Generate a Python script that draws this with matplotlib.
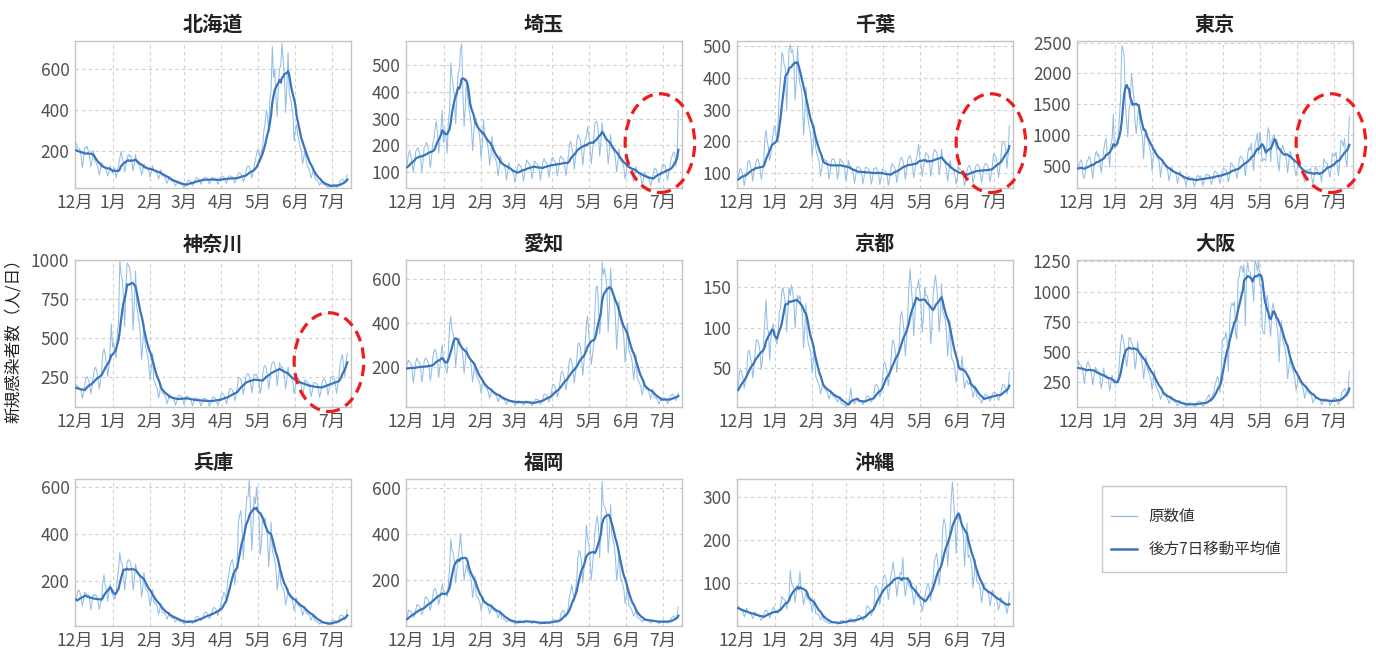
import numpy as np
import pandas as pd
import matplotlib
matplotlib.use("Agg")
import matplotlib.pyplot as plt
from matplotlib.patches import Ellipse, Rectangle
from matplotlib.lines import Line2D

plt.rcParams['font.family'] = ['Noto Sans CJK JP', 'DejaVu Sans']

# Daily new cases, 2020-11-26 (Thu) .. 2021-07-14 (Wed), one row per week (Thu..Wed)
start_date = "2020-11-26"
month_starts = ["2020-12-01", "2021-01-01", "2021-02-01", "2021-03-01",
                "2021-04-01", "2021-05-01", "2021-06-01", "2021-07-01"]
month_labels = ["12月", "1月", "2月", "3月", "4月", "5月", "6月", "7月"]

hokkaido = [
    230, 240, 220, 195, 135, 175, 240,
    220, 215, 210, 180, 120, 165, 220,
    215, 225, 200, 175, 125, 150, 205,
    160, 150, 140, 120, 85, 110, 145,
    135, 130, 120, 105, 80, 100, 130,
    110, 95, 120, 110, 70, 100, 130,
    165, 200, 170, 150, 100, 130, 165,
    185, 175, 180, 150, 105, 140, 185,
    145, 140, 135, 120, 85, 105, 140,
    130, 125, 120, 105, 75, 100, 130,
    110, 105, 100, 90, 65, 85, 110,
    80, 85, 75, 65, 45, 60, 80,
    60, 55, 55, 48, 32, 45, 55,
    45, 42, 40, 36, 25, 35, 43,
    55, 60, 55, 48, 33, 45, 56,
    72, 70, 66, 60, 40, 55, 70,
    70, 75, 68, 60, 42, 52, 73,
    72, 70, 67, 58, 40, 55, 72,
    78, 80, 72, 65, 44, 58, 78,
    82, 78, 76, 66, 46, 60, 82,
    92, 98, 90, 78, 52, 70, 94,
    120, 130, 125, 105, 70, 95, 125,
    160, 185, 210, 200, 150, 200, 225,
    300, 330, 400, 380, 290, 450, 500,
    712, 560, 600, 470, 370, 520, 600,
    620, 727, 640, 560, 390, 520, 680,
    480, 460, 420, 380, 250, 310, 330,
    280, 250, 220, 200, 140, 170, 210,
    150, 130, 120, 100, 70, 90, 110,
    75, 65, 60, 50, 35, 45, 55,
    40, 38, 35, 30, 22, 28, 31,
    38, 42, 40, 35, 24, 30, 38,
    55, 60, 65, 60, 45, 70, 85,
]

saitama = [
    140, 145, 125, 110, 75, 100, 130,
    165, 180, 160, 140, 100, 130, 175,
    185, 190, 175, 155, 100, 140, 190,
    200, 210, 195, 170, 115, 150, 205,
    220, 260, 290, 250, 170, 220, 270,
    330, 210, 260, 230, 170, 290, 330,
    510, 460, 420, 390, 280, 380, 470,
    480, 560, 580, 400, 270, 340, 450,
    380, 340, 310, 270, 180, 250, 300,
    300, 280, 260, 230, 150, 200, 295,
    240, 225, 210, 185, 125, 160, 235,
    165, 155, 150, 130, 85, 115, 160,
    140, 130, 125, 110, 70, 100, 135,
    120, 110, 100, 90, 60, 85, 115,
    130, 125, 120, 105, 65, 95, 130,
    145, 135, 130, 115, 75, 100, 140,
    135, 130, 125, 110, 70, 100, 135,
    150, 140, 135, 120, 80, 105, 145,
    155, 145, 140, 125, 85, 110, 150,
    160, 150, 150, 130, 85, 115, 155,
    200, 215, 190, 170, 110, 150, 210,
    240, 230, 220, 190, 125, 170, 225,
    230, 270, 240, 200, 130, 175, 220,
    280, 290, 285, 240, 160, 210, 285,
    240, 230, 225, 195, 130, 175, 240,
    190, 185, 175, 150, 100, 135, 185,
    145, 140, 135, 115, 75, 100, 145,
    125, 120, 115, 100, 65, 90, 120,
    100, 95, 95, 80, 55, 70, 100,
    90, 85, 80, 70, 48, 65, 87,
    110, 115, 105, 90, 60, 80, 105,
    130, 125, 125, 105, 70, 95, 120,
    150, 160, 175, 170, 120, 175, 330,
]

chiba = [
    95, 90, 85, 80, 55, 70, 85,
    110, 115, 105, 90, 60, 85, 100,
    135, 140, 125, 110, 75, 100, 120,
    140, 145, 135, 115, 80, 100, 135,
    210, 235, 200, 180, 140, 160, 200,
    230, 250, 230, 200, 260, 360, 400,
    480, 470, 440, 430, 300, 400, 490,
    505, 480, 490, 450, 330, 390, 500,
    420, 380, 370, 330, 220, 280, 370,
    290, 260, 240, 215, 150, 190, 250,
    180, 160, 150, 130, 90, 115, 145,
    145, 140, 140, 120, 80, 105, 140,
    145, 145, 135, 120, 80, 105, 145,
    140, 135, 130, 115, 75, 100, 140,
    125, 120, 115, 100, 68, 90, 120,
    120, 118, 112, 98, 66, 88, 118,
    118, 115, 110, 95, 65, 85, 115,
    115, 118, 110, 95, 64, 85, 113,
    110, 108, 105, 92, 62, 80, 108,
    130, 125, 120, 105, 70, 95, 125,
    145, 150, 140, 115, 80, 105, 140,
    150, 155, 140, 125, 85, 110, 145,
    160, 190, 150, 130, 90, 120, 140,
    165, 160, 155, 135, 90, 115, 160,
    175, 170, 165, 145, 95, 125, 175,
    140, 140, 130, 115, 75, 100, 140,
    120, 118, 112, 95, 65, 85, 120,
    112, 110, 105, 90, 60, 80, 108,
    120, 125, 115, 100, 68, 90, 120,
    125, 128, 120, 102, 70, 92, 120,
    130, 130, 125, 108, 72, 95, 125,
    160, 155, 150, 130, 85, 115, 150,
    200, 200, 195, 175, 115, 160, 250,
]

tokyo = [
    500, 570, 560, 420, 310, 370, 500,
    530, 600, 580, 330, 300, 420, 570,
    600, 660, 620, 480, 300, 460, 680,
    740, 660, 690, 560, 390, 560, 750,
    880, 950, 700, 710, 480, 856, 940,
    1337, 783, 814, 816, 884, 1278, 1591,
    2447, 2392, 2268, 1494, 1219, 970, 1433,
    1502, 2001, 1809, 1592, 1204, 1026, 1274,
    1471, 1175, 1070, 986, 618, 1026, 973,
    1000, 880, 800, 700, 420, 620, 780,
    760, 680, 620, 560, 320, 480, 600,
    540, 500, 470, 420, 260, 370, 480,
    440, 420, 400, 350, 220, 310, 420,
    350, 330, 300, 280, 180, 270, 340,
    320, 300, 310, 260, 170, 240, 320,
    350, 320, 340, 290, 180, 250, 350,
    370, 350, 360, 300, 200, 270, 380,
    420, 400, 380, 330, 220, 300, 410,
    470, 450, 440, 370, 240, 340, 550,
    540, 500, 480, 420, 300, 400, 590,
    660, 640, 620, 550, 340, 500, 700,
    800, 760, 870, 630, 420, 830, 920,
    1030, 700, 1050, 880, 570, 620, 610,
    590, 910, 1120, 1030, 570, 920, 970,
    1010, 850, 770, 540, 420, 730, 770,
    840, 750, 720, 600, 390, 580, 740,
    690, 610, 610, 440, 340, 470, 490,
    510, 470, 440, 350, 240, 370, 440,
    440, 430, 470, 300, 210, 340, 500,
    450, 410, 390, 380, 240, 430, 620,
    570, 560, 530, 390, 320, 480, 710,
    670, 660, 720, 510, 340, 590, 920,
    900, 820, 950, 610, 500, 830, 1300,
]

kanagawa = [
    210, 200, 190, 170, 120, 150, 200,
    190, 180, 175, 160, 110, 140, 190,
    240, 250, 230, 200, 140, 180, 240,
    300, 310, 280, 250, 170, 220, 290,
    400, 430, 390, 330, 250, 310, 420,
    590, 440, 470, 400, 370, 540, 590,
    1000, 910, 880, 760, 570, 800, 980,
    970, 950, 900, 800, 550, 720, 930,
    700, 650, 600, 520, 360, 460, 590,
    450, 420, 380, 330, 230, 300, 400,
    230, 210, 190, 170, 110, 150, 200,
    145, 140, 130, 115, 75, 100, 135,
    125, 120, 115, 100, 65, 90, 120,
    130, 125, 120, 105, 70, 95, 125,
    120, 115, 110, 95, 62, 85, 113,
    112, 110, 105, 90, 60, 80, 108,
    110, 105, 100, 88, 58, 78, 105,
    120, 115, 110, 95, 62, 85, 115,
    140, 140, 130, 115, 75, 100, 140,
    175, 170, 165, 140, 95, 130, 175,
    240, 245, 230, 200, 135, 180, 240,
    265, 270, 250, 220, 145, 195, 265,
    260, 265, 240, 215, 140, 190, 260,
    310, 320, 300, 255, 170, 230, 310,
    340, 345, 330, 290, 190, 260, 340,
    310, 315, 295, 255, 170, 230, 310,
    255, 260, 240, 210, 140, 185, 255,
    235, 235, 220, 190, 125, 170, 230,
    215, 215, 205, 175, 120, 155, 210,
    210, 210, 200, 170, 115, 150, 205,
    230, 235, 220, 190, 130, 170, 230,
    250, 255, 245, 210, 140, 190, 250,
    330, 370, 390, 300, 250, 350, 400,
]

aichi = [
    225, 215, 210, 190, 130, 160, 215,
    230, 220, 215, 195, 125, 165, 220,
    240, 225, 220, 200, 130, 165, 225,
    240, 235, 225, 205, 135, 170, 235,
    270, 280, 260, 230, 150, 200, 260,
    300, 220, 210, 190, 170, 280, 380,
    430, 370, 350, 300, 200, 260, 330,
    330, 310, 290, 250, 170, 220, 290,
    250, 240, 230, 200, 130, 170, 215,
    165, 150, 140, 125, 80, 105, 140,
    110, 105, 100, 85, 55, 75, 100,
    80, 75, 72, 62, 40, 55, 72,
    55, 52, 50, 42, 28, 38, 50,
    45, 44, 42, 36, 24, 32, 43,
    45, 43, 42, 37, 24, 32, 44,
    42, 40, 38, 33, 22, 30, 40,
    52, 50, 50, 43, 28, 38, 52,
    75, 75, 72, 62, 40, 55, 76,
    115, 120, 110, 95, 62, 85, 120,
    170, 180, 165, 140, 95, 125, 175,
    230, 240, 220, 190, 125, 170, 230,
    300, 310, 290, 245, 160, 220, 300,
    400, 430, 350, 300, 210, 250, 300,
    450, 560, 570, 480, 350, 420, 680,
    620, 650, 610, 560, 360, 470, 650,
    560, 540, 510, 430, 280, 370, 500,
    420, 400, 380, 330, 220, 290, 400,
    280, 260, 250, 215, 140, 190, 255,
    150, 135, 125, 110, 70, 95, 130,
    100, 98, 92, 80, 52, 70, 98,
    60, 58, 55, 47, 30, 42, 58,
    58, 58, 55, 48, 32, 42, 57,
    70, 75, 72, 62, 45, 60, 80,
]

kyoto = [
    25, 30, 28, 22, 12, 18, 26,
    45, 48, 44, 38, 25, 35, 45,
    70, 72, 65, 55, 38, 50, 70,
    85, 85, 80, 70, 48, 60, 82,
    110, 135, 100, 95, 60, 85, 100,
    105, 90, 85, 80, 95, 120, 125,
    145, 150, 140, 130, 95, 120, 150,
    140, 153, 145, 130, 100, 125, 140,
    135, 140, 130, 115, 75, 100, 130,
    90, 80, 75, 68, 45, 60, 72,
    40, 36, 32, 28, 18, 25, 32,
    25, 24, 22, 18, 12, 16, 22,
    16, 15, 14, 12, 8, 11, 15,
    7, 6, 5, 5, 2, 4, 6,
    14, 25, 12, 10, 6, 8, 10,
    11, 10, 10, 9, 5, 8, 10,
    15, 16, 14, 12, 8, 11, 15,
    28, 30, 28, 24, 15, 20, 30,
    55, 58, 52, 44, 28, 40, 55,
    80, 85, 78, 68, 45, 60, 80,
    115, 120, 110, 95, 65, 85, 115,
    150, 173, 150, 130, 90, 115, 150,
    150, 160, 145, 130, 95, 115, 150,
    140, 140, 135, 120, 80, 100, 140,
    155, 165, 150, 130, 95, 115, 155,
    120, 115, 110, 95, 65, 85, 110,
    65, 60, 58, 50, 32, 45, 55,
    48, 50, 65, 40, 25, 32, 35,
    30, 32, 28, 24, 14, 20, 28,
    15, 14, 13, 11, 7, 10, 14,
    18, 17, 16, 14, 9, 13, 18,
    20, 20, 19, 16, 10, 14, 20,
    28, 30, 28, 24, 18, 26, 45,
]

osaka = [
    420, 400, 380, 350, 270, 340, 430,
    400, 390, 380, 330, 240, 320, 390,
    420, 400, 370, 320, 230, 300, 375,
    360, 350, 340, 290, 200, 260, 370,
    300, 310, 300, 270, 180, 250, 310,
    260, 240, 260, 250, 280, 420, 560,
    650, 610, 560, 480, 380, 460, 620,
    620, 580, 560, 500, 360, 430, 590,
    500, 480, 450, 400, 280, 360, 470,
    370, 340, 320, 280, 190, 250, 350,
    220, 200, 180, 160, 110, 140, 180,
    145, 140, 130, 115, 75, 100, 135,
    100, 98, 92, 80, 55, 70, 100,
    80, 78, 75, 65, 42, 55, 80,
    82, 80, 76, 66, 44, 58, 84,
    92, 95, 90, 75, 50, 65, 93,
    110, 130, 150, 120, 90, 150, 160,
    230, 260, 300, 280, 170, 330, 600,
    616, 613, 666, 593, 341, 719, 878,
    905, 883, 918, 655, 606, 1099, 1130,
    1208, 1209, 1161, 1220, 719, 1153, 1242,
    1167, 1162, 1097, 1050, 923, 1260, 1230,
    1172, 1262, 1050, 1058, 694, 657, 651,
    878, 974, 899, 722, 632, 851, 906,
    850, 800, 720, 650, 420, 680, 760,
    600, 560, 520, 450, 280, 370, 450,
    380, 360, 330, 280, 180, 240, 310,
    250, 240, 220, 190, 120, 160, 220,
    165, 160, 150, 130, 80, 105, 120,
    120, 118, 115, 100, 65, 85, 117,
    110, 112, 108, 95, 60, 80, 110,
    120, 125, 118, 100, 65, 90, 130,
    170, 180, 200, 180, 130, 200, 340,
]

hyogo = [
    170, 130, 125, 110, 75, 95, 120,
    150, 160, 150, 130, 90, 115, 150,
    145, 140, 140, 120, 75, 105, 140,
    135, 140, 130, 115, 75, 100, 130,
    190, 225, 180, 160, 110, 150, 185,
    150, 140, 130, 120, 150, 210, 250,
    320, 280, 270, 240, 160, 210, 280,
    290, 285, 275, 240, 160, 200, 270,
    240, 235, 230, 200, 130, 170, 235,
    170, 160, 155, 135, 90, 115, 160,
    110, 105, 100, 88, 55, 75, 100,
    65, 62, 60, 52, 35, 47, 63,
    42, 40, 38, 34, 22, 30, 40,
    26, 25, 24, 21, 14, 19, 25,
    30, 28, 28, 24, 15, 21, 29,
    45, 46, 44, 38, 26, 34, 47,
    62, 65, 60, 53, 35, 47, 63,
    80, 85, 80, 70, 50, 70, 90,
    110, 130, 150, 140, 100, 200, 220,
    260, 280, 290, 260, 180, 240, 280,
    450, 480, 500, 430, 290, 380, 500,
    560, 560, 630, 510, 330, 430, 560,
    530, 600, 520, 480, 310, 360, 480,
    450, 470, 430, 390, 260, 340, 450,
    330, 310, 290, 250, 160, 200, 270,
    190, 175, 165, 145, 95, 120, 165,
    130, 128, 120, 105, 70, 95, 125,
    95, 92, 88, 78, 50, 67, 90,
    60, 58, 55, 48, 30, 42, 57,
    28, 26, 24, 21, 13, 18, 24,
    18, 18, 17, 15, 9, 12, 16,
    28, 30, 28, 24, 16, 22, 29,
    50, 52, 50, 44, 30, 50, 75,
]

fukuoka = [
    38, 36, 35, 30, 20, 26, 37,
    70, 68, 65, 58, 38, 50, 70,
    95, 92, 88, 78, 50, 65, 92,
    130, 125, 120, 105, 70, 95, 125,
    160, 165, 150, 135, 95, 120, 155,
    185, 150, 145, 140, 130, 180, 250,
    380, 330, 320, 280, 190, 240, 290,
    340, 405, 330, 280, 200, 240, 270,
    240, 235, 220, 195, 125, 165, 220,
    130, 128, 120, 105, 70, 95, 125,
    100, 98, 95, 82, 55, 70, 95,
    70, 70, 65, 58, 38, 50, 68,
    36, 35, 32, 28, 19, 25, 35,
    22, 20, 20, 17, 11, 15, 21,
    26, 25, 24, 21, 14, 19, 25,
    24, 23, 22, 19, 12, 17, 23,
    18, 17, 16, 14, 9, 13, 18,
    21, 21, 20, 17, 11, 15, 21,
    28, 30, 28, 24, 16, 21, 30,
    55, 65, 70, 60, 40, 60, 80,
    130, 150, 180, 150, 110, 160, 200,
    300, 330, 320, 280, 190, 250, 320,
    440, 380, 360, 300, 200, 260, 320,
    410, 450, 480, 430, 300, 430, 630,
    530, 520, 510, 460, 320, 400, 530,
    400, 380, 350, 300, 200, 250, 330,
    220, 200, 185, 160, 100, 130, 180,
    90, 85, 78, 65, 45, 55, 75,
    38, 36, 33, 28, 19, 25, 33,
    30, 29, 27, 24, 15, 20, 28,
    24, 23, 22, 19, 12, 16, 23,
    26, 25, 24, 21, 14, 19, 26,
    35, 40, 45, 40, 30, 50, 85,
]

okinawa = [
    50, 48, 45, 42, 28, 37, 48,
    40, 38, 37, 33, 22, 30, 42,
    32, 31, 30, 27, 18, 24, 34,
    26, 25, 24, 21, 14, 19, 25,
    36, 38, 35, 30, 20, 28, 36,
    45, 40, 35, 35, 30, 40, 45,
    70, 65, 62, 60, 40, 55, 70,
    130, 100, 95, 88, 55, 80, 95,
    95, 128, 85, 75, 50, 65, 80,
    65, 62, 60, 52, 35, 47, 63,
    30, 29, 28, 24, 15, 20, 28,
    12, 12, 11, 10, 6, 8, 12,
    10, 9, 9, 8, 5, 7, 9,
    14, 14, 13, 11, 7, 10, 15,
    18, 17, 16, 14, 9, 13, 18,
    26, 25, 24, 21, 14, 19, 25,
    45, 48, 44, 38, 25, 35, 45,
    90, 95, 88, 76, 50, 70, 92,
    115, 120, 110, 95, 62, 85, 115,
    130, 150, 125, 105, 70, 95, 110,
    125, 120, 160, 100, 70, 90, 115,
    95, 92, 88, 76, 50, 65, 94,
    68, 70, 62, 55, 35, 50, 65,
    80, 95, 100, 85, 60, 90, 110,
    150, 160, 170, 140, 95, 125, 160,
    230, 250, 240, 200, 140, 185, 230,
    300, 335, 290, 250, 170, 230, 260,
    260, 240, 230, 210, 140, 190, 240,
    160, 165, 155, 135, 90, 120, 155,
    105, 102, 98, 88, 55, 75, 100,
    88, 86, 82, 72, 48, 62, 85,
    70, 70, 66, 57, 38, 50, 68,
    55, 55, 52, 45, 30, 45, 80,
]

prefectures = ["北海道", "埼玉", "千葉", "東京", "神奈川", "愛知",
               "京都", "大阪", "兵庫", "福岡", "沖縄"]
series = [hokkaido, saitama, chiba, tokyo, kanagawa, aichi,
          kyoto, osaka, hyogo, fukuoka, okinawa]
yticks = [[200, 400, 600], [100, 200, 300, 400, 500], [100, 200, 300, 400, 500],
          [500, 1000, 1500, 2000, 2500], [250, 500, 750, 1000], [200, 400, 600],
          [50, 100, 150], [250, 500, 750, 1000, 1250], [200, 400, 600],
          [200, 400, 600], [100, 200, 300]]
ylims = [(22, 737), (40, 590), (53, 517), (145, 2525), (54, 1000), (16, 688),
         (2, 184), (47, 1262), (5, 636), (2, 641), (1, 342)]
highlighted = ["埼玉", "千葉", "東京", "神奈川"]

RAW_COLOR = "#93bfe6"
AVG_COLOR = "#3a74bb"
GRID_COLOR = "#cfcfcf"
SPINE_COLOR = "#c4c4c4"
TEXT_COLOR = "#505050"

W, H = 1376, 653
fig = plt.figure(figsize=(W / 100, H / 100), dpi=100)

col_x = [75, 406, 737, 1077]
row_top = [41, 260, 479]
ax_w, ax_h = 276, 147

dates = pd.date_range(start_date, periods=len(hokkaido), freq="D")
tick_dates = pd.to_datetime(month_starts)
x_lo, x_hi = pd.Timestamp("2020-12-01"), pd.Timestamp("2021-07-17")

for i, (name, values) in enumerate(zip(prefectures, series)):
    r, c = divmod(i, 4)
    left = col_x[c]
    top = row_top[r]
    ax = fig.add_axes([left / W, 1 - (top + ax_h) / H, ax_w / W, ax_h / H])
    raw = pd.Series(values, index=dates, dtype=float)
    avg = raw.rolling(7).mean()
    ax.plot(raw.index, raw.values, color=RAW_COLOR, lw=0.75, zorder=2)
    ax.plot(avg.index, avg.values, color=AVG_COLOR, lw=1.6, zorder=3)
    ax.set_xlim(x_lo, x_hi)
    ax.set_ylim(*ylims[i])
    ax.set_xticks(tick_dates)
    ax.set_xticklabels(month_labels)
    ax.set_yticks(yticks[i])
    ax.tick_params(length=0, labelsize=12.5, labelcolor=TEXT_COLOR, pad=4)
    ax.grid(True, color=GRID_COLOR, lw=0.8, linestyle=(0, (3, 3)))
    ax.set_axisbelow(True)
    for sp in ax.spines.values():
        sp.set_color(SPINE_COLOR)
        sp.set_linewidth(1.0)
    ax.set_title(name, fontsize=14.5, fontweight="bold", color="#222222", pad=7)
    if name in highlighted:
        ax.add_patch(Ellipse((0.92, 0.305), 0.252, 0.672, transform=ax.transAxes,
                             fill=False, edgecolor="#ee1c1c", lw=2.3,
                             linestyle=(0, (3.5, 2)), clip_on=False, zorder=5))

fig.text(14 / W, 1 - 337 / H, "新規感染者数（人/日）", rotation=90,
         ha="center", va="center", fontsize=12, color="#222222")

# Legend: frame drawn as a separate box, entries placed inside it
fig.add_artist(Rectangle((1102 / W, 1 - 572 / H), 184 / W, 86 / H,
                         transform=fig.transFigure, facecolor="white",
                         edgecolor="#c8c8c8", lw=1.0))
handles = [Line2D([], [], color=RAW_COLOR, lw=0.9),
           Line2D([], [], color=AVG_COLOR, lw=1.8)]
leg = fig.legend(handles, ["原数値", "後方7日移動平均値"], loc="upper left",
                 bbox_to_anchor=(1111 / W, 1 - 508 / H), fontsize=11.2,
                 frameon=False, handlelength=1.7, labelspacing=1.05,
                 borderpad=0, handletextpad=0.7, borderaxespad=0)
for t in leg.get_texts():
    t.set_color("#333333")

fig.savefig("out.png", dpi=100)
